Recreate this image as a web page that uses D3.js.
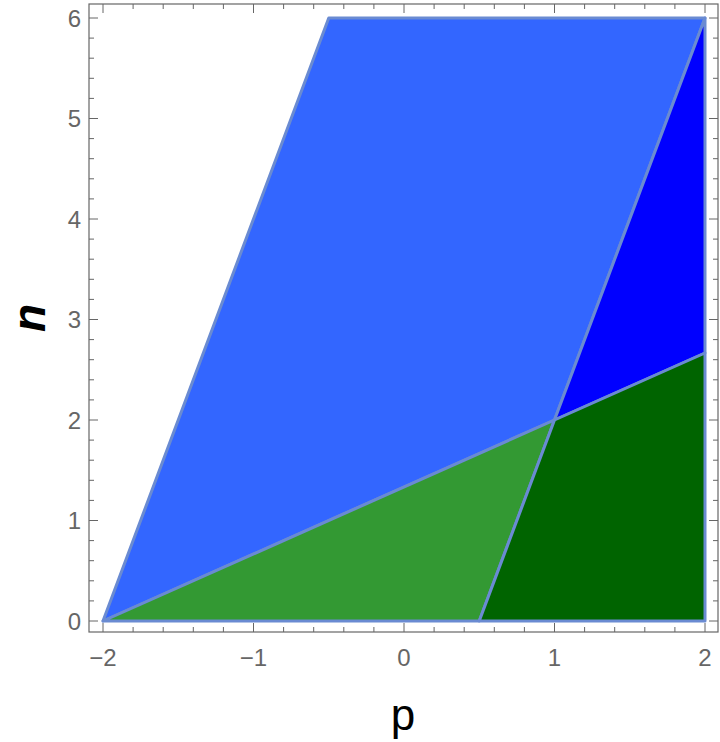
<!DOCTYPE html>
<html>
<head>
<meta charset="utf-8">
<script src="https://cdn.jsdelivr.net/npm/d3@7"></script>
<style>
html,body{margin:0;padding:0;background:#fff;}
svg{display:block;}
</style>
</head>
<body>
<svg id="chart" width="720" height="742"></svg>
<script>
// Region vertices (p, n)
const regionNames = ["lightBlue", "lightGreen", "darkBlue", "darkGreen"];
const regionColors = ["#3366ff", "#339933", "#0000ff", "#006400"];
const lightBluePts = [[-2,0],[-0.5,6],[2,6],[1,2]];
const lightGreenPts = [[-2,0],[1,2],[0.5,0]];
const darkBluePts = [[1,2],[2,6],[2,8/3]];
const darkGreenPts = [[0.5,0],[1,2],[2,8/3],[2,0]];
const regions = [lightBluePts, lightGreenPts, darkBluePts, darkGreenPts];

const xTicks = [-2,-1,0,1,2];
const yTicks = [0,1,2,3,4,5,6];
const xLabel = "p";
const yLabel = "n";

const svg = d3.select("#chart");
const frame = {left:89, right:718, top:4, bottom:632};
const x = d3.scaleLinear().domain([-2,2]).range([103,705]);
const y = d3.scaleLinear().domain([0,6]).range([621,18]);

const line = d3.line().x(d=>x(d[0])).y(d=>y(d[1]));

svg.selectAll("path.region").data(regions).enter().append("path")
  .attr("class","region")
  .attr("d", d=>line(d)+"Z")
  .attr("fill", (d,i)=>regionColors[i])
  .attr("stroke", "#6a8bd2")
  .attr("stroke-width", 3)
  .attr("stroke-linejoin","round");

// Frame
svg.append("rect")
  .attr("x", frame.left).attr("y", frame.top)
  .attr("width", frame.right-frame.left).attr("height", frame.bottom-frame.top)
  .attr("fill","none").attr("stroke","#666").attr("stroke-width",1.2);

const minorX = d3.range(-2.0, 2.0001, 0.2).map(v=>Math.round(v*10)/10).filter(v=>!xTicks.includes(v));
const minorXExt = minorX.concat([-2.2, 2.2]).filter(v=>x(v)>frame.left && x(v)<frame.right);
const minorY = d3.range(0, 6.0001, 0.2).map(v=>Math.round(v*10)/10).filter(v=>!yTicks.includes(v));
const minorYExt = minorY.concat([-0.2, 6.2]).filter(v=>y(v)<frame.bottom && y(v)>frame.top);

const tk = svg.append("g").attr("stroke","#666").attr("stroke-width",1);
xTicks.forEach(v=>{
  tk.append("line").attr("x1",x(v)).attr("x2",x(v)).attr("y1",frame.bottom).attr("y2",frame.bottom-9);
  tk.append("line").attr("x1",x(v)).attr("x2",x(v)).attr("y1",frame.top).attr("y2",frame.top+9);
});
minorXExt.forEach(v=>{
  tk.append("line").attr("x1",x(v)).attr("x2",x(v)).attr("y1",frame.bottom).attr("y2",frame.bottom-5);
  tk.append("line").attr("x1",x(v)).attr("x2",x(v)).attr("y1",frame.top).attr("y2",frame.top+5);
});
yTicks.forEach(v=>{
  tk.append("line").attr("y1",y(v)).attr("y2",y(v)).attr("x1",frame.left).attr("x2",frame.left+9);
  tk.append("line").attr("y1",y(v)).attr("y2",y(v)).attr("x1",frame.right).attr("x2",frame.right-9);
});
minorYExt.forEach(v=>{
  tk.append("line").attr("y1",y(v)).attr("y2",y(v)).attr("x1",frame.left).attr("x2",frame.left+5);
  tk.append("line").attr("y1",y(v)).attr("y2",y(v)).attr("x1",frame.right).attr("x2",frame.right-5);
});

const fmt = v => v<0 ? "\u2212"+Math.abs(v) : String(v);
svg.append("g").selectAll("text").data(xTicks).enter().append("text")
  .attr("x", d=>x(d)).attr("y", 666)
  .attr("text-anchor","middle")
  .attr("font-family","Liberation Sans, Arial, sans-serif")
  .attr("font-size",24).attr("fill","#666")
  .text(fmt);
svg.append("g").selectAll("text").data(yTicks).enter().append("text")
  .attr("x", 81).attr("y", d=>y(d)+8.5)
  .attr("text-anchor","end")
  .attr("font-family","Liberation Sans, Arial, sans-serif")
  .attr("font-size",24).attr("fill","#666")
  .text(fmt);

svg.append("text").attr("x", 403).attr("y", 730)
  .attr("text-anchor","middle")
  .attr("font-family","Liberation Sans, Arial, sans-serif")
  .attr("font-size",44).attr("fill","#000")
  .text(xLabel);
svg.append("text")
  .attr("transform","translate(45,318) rotate(-90)")
  .attr("text-anchor","middle")
  .attr("font-family","Liberation Sans, Arial, sans-serif")
  .attr("font-size",46).attr("font-style","italic").attr("font-weight","bold").attr("fill","#000")
  .text(yLabel);
</script>
</body>
</html>
